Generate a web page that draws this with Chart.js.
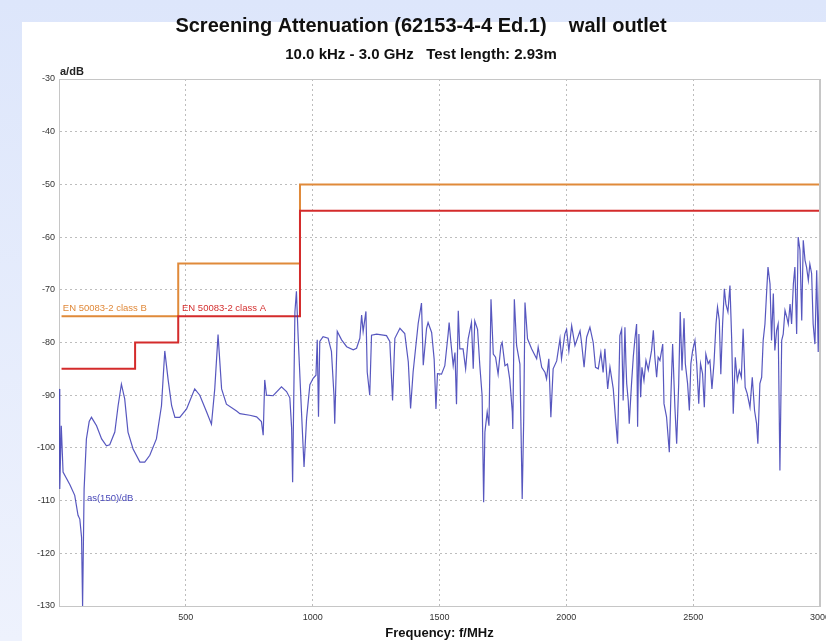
<!DOCTYPE html>
<html>
<head>
<meta charset="utf-8">
<title>Screening Attenuation</title>
<script src="https://cdn.jsdelivr.net/npm/chart.js@4.4.1/dist/chart.umd.min.js"></script>
<style>
  html, body { margin: 0; padding: 0; overflow: hidden; }
  body { width: 826px; height: 641px; position: relative; background: linear-gradient(#dde6fb, #eef2fd); }
  .panel { position: absolute; left: 22px; top: 22px; right: 0; bottom: 0; background: #fff; }
  .chart_wrap { position: absolute; left: 0; top: 0; width: 846px; height: 641px; }
</style>
</head>
<body>
<div class="panel"></div>
<div class="chart_wrap"><canvas id="sa_chart" width="846" height="641"></canvas></div>
<script>
// measured curve as(150), frequency in MHz / attenuation in dB
const freqs = [0.01, 3, 9, 16, 43, 62, 75, 82, 89, 93, 99, 108, 119, 128, 148, 168, 187, 200, 220, 233,
  246, 259, 272, 292, 319, 338, 358, 384, 404, 417, 430, 444, 457, 476, 503, 535, 555, 582, 601, 614,
  627, 641, 660, 700, 713, 752, 779, 798, 805, 811, 818, 844, 877, 897, 910, 917, 921, 930, 936, 943,
  956, 966, 976, 989, 1002, 1013, 1018, 1023, 1028, 1041, 1061, 1074, 1084, 1087, 1097, 1114, 1134, 1160, 1173, 1186,
  1193, 1199, 1210, 1215, 1225, 1232, 1252, 1291, 1304, 1315, 1324, 1344, 1363, 1377, 1386, 1396, 1416, 1429, 1436, 1449,
  1455, 1469, 1479, 1486, 1492, 1508, 1521, 1534, 1538, 1545, 1554, 1561, 1567, 1574, 1580, 1593, 1603, 1613, 1626, 1633,
  1639, 1650, 1659, 1668, 1674, 1679, 1688, 1695, 1703, 1712, 1721, 1731, 1742, 1747, 1758, 1768, 1777, 1787, 1789, 1795,
  1804, 1817, 1826, 1832, 1837, 1847, 1863, 1883, 1889, 1903, 1916, 1922, 1931, 1939, 1948, 1962, 1975, 1981, 1994, 2001,
  2010, 2021, 2034, 2054, 2060, 2070, 2080, 2093, 2106, 2115, 2126, 2136, 2145, 2152, 2163, 2172, 2185, 2194, 2202, 2211,
  2218, 2224, 2231, 2235, 2238, 2244, 2248, 2257, 2264, 2270, 2277, 2281, 2286, 2293, 2298, 2306, 2314, 2323, 2336, 2343,
  2349, 2356, 2362, 2369, 2380, 2385, 2395, 2406, 2412, 2419, 2428, 2435, 2443, 2449, 2456, 2464, 2469, 2478, 2485, 2491,
  2498, 2507, 2514, 2522, 2529, 2537, 2544, 2550, 2559, 2566, 2574, 2582, 2590, 2596, 2603, 2609, 2616, 2623, 2629, 2637,
  2645, 2652, 2658, 2666, 2674, 2682, 2690, 2697, 2705, 2713, 2724, 2733, 2742, 2750, 2755, 2763, 2770, 2776, 2783, 2790,
  2795, 2803, 2809, 2816, 2822, 2829, 2835, 2842, 2849, 2855, 2862, 2869, 2875, 2882, 2888, 2895, 2901, 2908, 2914, 2921,
  2928, 2934, 2941, 2947, 2954, 2960, 2967, 2973, 2980, 2987, 2993, 3000];
const atten = [-88.8, -107.8, -95.8, -104.6, -107, -109, -112.8, -113.5, -117, -130, -107.8, -98.3, -95, -94.2, -95.8, -98.3, -99.6, -99.4, -97, -92,
  -87.9, -90.7, -97, -100.2, -102.7, -102.7, -101.4, -98.3, -92, -81.6, -87, -92, -94.2, -94.2, -92.6, -88.8, -90, -93.2, -95.5, -88.8,
  -78.5, -88.8, -91.7, -93, -93.5, -93.8, -94.1, -95, -97.6, -87.1, -90, -90.1, -88.4, -89.3, -90.5, -96.2, -106.5, -74.2, -70.3, -79.2,
  -93.2, -103.6, -94.4, -88, -86.8, -86.2, -79.5, -94.1, -79.8, -78.9, -79.2, -81.7, -90, -95.4, -77.9, -79.5, -80.8, -81.4, -81.1, -79.2,
  -74.8, -77.9, -74.1, -85.6, -90, -78.6, -78.4, -78.7, -79.8, -91, -79.2, -77.3, -78.3, -83.7, -92.5, -85.6, -76.4, -72.5, -84.3, -77.3,
  -76.2, -78.1, -83.2, -92.6, -85.9, -86, -84.4, -78.4, -76.2, -80, -84.4, -81.9, -91.7, -74, -81.2, -81.2, -85, -79.3, -76.2, -85,
  -75.9, -77.5, -84.4, -90.1, -110.3, -97, -93.2, -95.8, -71.8, -82.2, -82.8, -86, -80.6, -80, -84.4, -84.1, -87, -93.2, -96.4, -71.8,
  -80.6, -84.1, -109.7, -94.5, -72.4, -79.3, -81.2, -83.1, -80.9, -84.7, -85.7, -86.9, -83.1, -94.2, -85, -83.5, -79.3, -83.1, -78.4, -77.5,
  -81.6, -76.8, -80.6, -77.8, -80, -84.7, -79, -77.1, -80, -84.7, -85, -81.9, -85.7, -81.2, -88.8, -84.7, -88.8, -94.5, -99.2, -78.7,
  -77.5, -91, -77.1, -84, -87.8, -91, -95.4, -87.8, -82.7, -79.5, -76.5, -96, -78.4, -90.4, -84.7, -87.2, -83.4, -85.2, -81.5, -77.7,
  -82.8, -86.6, -82.8, -83.4, -80.3, -91.6, -94.1, -100.8, -90.4, -80.3, -92.3, -99.2, -87.8, -74.2, -85.3, -75.4, -84, -87.8, -92.9, -84,
  -81.5, -79.6, -84, -91.6, -84, -85.9, -92.3, -82.2, -84, -83.4, -88.8, -84, -76.5, -73.3, -75.8, -86, -76.5, -69.8, -72.7, -74.2,
  -69.2, -79.6, -93.5, -82.8, -87.2, -85.3, -86.6, -77.4, -88.5, -89.7, -92.3, -86.6, -92.9, -95.4, -99.2, -87.8, -86.6, -79.6, -76.5, -70.1,
  -65.7, -68.9, -79.6, -70.7, -81.5, -77.7, -76.5, -104.3, -79.6, -78.4, -73.9, -75.2, -76.5, -72.7, -76.5, -68.9, -65.7, -78.4, -60, -62.5,
  -75.8, -60.6, -64.4, -65.7, -68.2, -65.1, -66.9, -76.5, -80.3, -66.3, -81.8, -61.9];

// EN 50083-2 limits (value holds from each frequency up to the next one)
const classBFreqs = [10, 470, 950, 3000];
const classBLimits = [-75, -65, -50, -50];
const classAFreqs = [10, 300, 470, 950, 3000];
const classALimits = [-85, -80, -75, -55, -55];

// axes
const xMin = 0, xMax = 3000, xStep = 500;
const yMin = -130, yMax = -30, yStep = 10;

const toPoints = (xs, ys) => xs.map((x, i) => ({ x: x, y: ys[i] }));

const tickFont = { family: '"Liberation Sans Narrow", "Liberation Sans", Arial, sans-serif', size: 9 };
const noteFont = '9.5px "Liberation Sans", Arial, sans-serif';

// frame + in-plot labels
const notesPlugin = {
  id: "notes",
  afterDraw(chart) {
    const { ctx, chartArea } = chart;
    const xs = chart.scales.x;
    const ys = chart.scales.y;
    ctx.save();
    ctx.strokeStyle = "#c6c6c6";
    ctx.lineWidth = 1;
    ctx.beginPath();
    ctx.moveTo(chartArea.left, chartArea.top + 0.5);
    ctx.lineTo(chartArea.right, chartArea.top + 0.5);
    ctx.stroke();
    ctx.lineWidth = 2;
    ctx.beginPath();
    ctx.moveTo(chartArea.right, chartArea.top);
    ctx.lineTo(chartArea.right, chartArea.bottom);
    ctx.stroke();

    ctx.font = noteFont;
    ctx.textBaseline = "bottom";
    ctx.fillStyle = "#e0893a";
    ctx.fillText("EN 50083-2 class B", xs.getPixelForValue(15), ys.getPixelForValue(-75) - 3);
    ctx.fillStyle = "#d43030";
    ctx.fillText("EN 50083-2 class A", xs.getPixelForValue(485), ys.getPixelForValue(-75) - 3);
    ctx.textBaseline = "middle";
    ctx.fillStyle = "#4646b8";
    ctx.fillText("as(150)/dB", xs.getPixelForValue(110), ys.getPixelForValue(-109.5));

    ctx.font = 'bold 11px "Liberation Sans", Arial, sans-serif';
    ctx.fillStyle = "#222";
    ctx.textBaseline = "bottom";
    ctx.fillText("a/dB", chartArea.left + 1, chartArea.top - 2);
    ctx.restore();
  },
};

const saChart = new Chart(document.getElementById("sa_chart"), {
  type: "line",
  data: {
    datasets: [
      {
        label: "as(150)/dB",
        data: toPoints(freqs, atten),
        borderColor: "rgba(58, 58, 180, 0.85)",
        borderWidth: 1.2,
        pointRadius: 0,
        tension: 0,
        fill: false,
      },
      {
        label: "EN 50083-2 class A",
        data: toPoints(classAFreqs, classALimits),
        borderColor: "#d42b2b",
        borderWidth: 2,
        pointRadius: 0,
        stepped: "before",
        fill: false,
      },
      {
        label: "EN 50083-2 class B",
        data: toPoints(classBFreqs, classBLimits),
        borderColor: "#e08a3a",
        borderWidth: 2,
        pointRadius: 0,
        stepped: "before",
        fill: false,
      },
    ],
  },
  options: {
    responsive: false,
    animation: false,
    layout: {
      padding: { left: 22, right: 26, top: 0, bottom: 0 },
    },
    plugins: {
      legend: { display: false },
      tooltip: { enabled: false },
      title: {
        display: true,
        text: "Screening Attenuation (62153-4-4 Ed.1)    wall outlet",
        color: "#111",
        font: { family: '"Liberation Sans", Arial, sans-serif', size: 20, weight: "bold" },
        padding: { top: 14, bottom: 8 },
      },
      subtitle: {
        display: true,
        text: "10.0 kHz - 3.0 GHz   Test length: 2.93m",
        color: "#111",
        font: { family: '"Liberation Sans", Arial, sans-serif', size: 15, weight: "bold" },
        padding: { top: 0, bottom: 15 },
      },
    },
    scales: {
      x: {
        type: "linear",
        min: xMin,
        max: xMax,
        afterFit: function (scale) {
          scale.height = 35;
        },
        grid: {
          color: "#bdbdbd",
          drawTicks: false,
        },
        border: {
          color: "#c6c6c6",
          dash: [2, 3],
        },
        ticks: {
          stepSize: xStep,
          padding: 6,
          maxRotation: 0,
          color: "#333",
          font: tickFont,
          callback: function (value) {
            return value === 0 ? "" : value;
          },
        },
        title: {
          display: true,
          text: "Frequency: f/MHz",
          color: "#111",
          font: { family: '"Liberation Sans", Arial, sans-serif', size: 13, weight: "bold" },
          padding: { top: 0, bottom: 0 },
        },
      },
      y: {
        min: yMin,
        max: yMax,
        afterFit: function (scale) {
          scale.width = 37;
        },
        grid: {
          color: "#bdbdbd",
          drawTicks: false,
        },
        border: {
          color: "#c6c6c6",
          dash: [2, 3],
        },
        ticks: {
          stepSize: yStep,
          padding: 4,
          color: "#333",
          font: tickFont,
        },
      },
    },
  },
  plugins: [notesPlugin],
});
</script>
</body>
</html>
